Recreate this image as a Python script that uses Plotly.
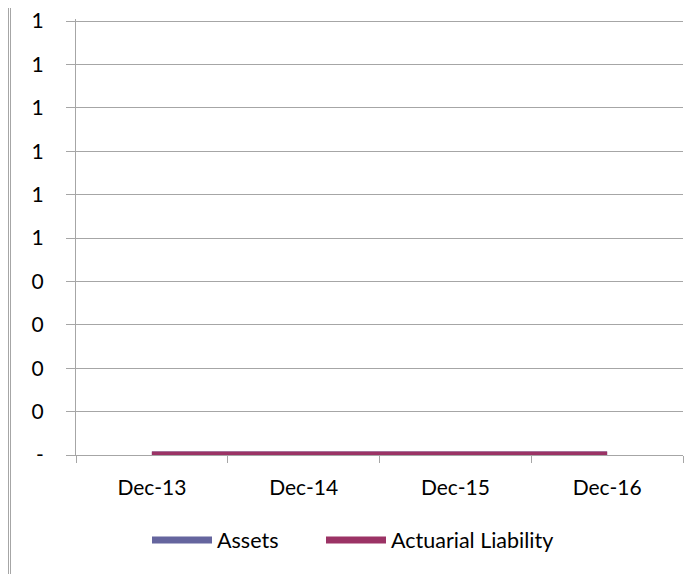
import plotly.graph_objects as go

categories = ["Dec-13", "Dec-14", "Dec-15", "Dec-16"]
assets = [0, 0, 0, 0]
actuarial_liability = [0, 0, 0, 0]
y_tickvals = [0, 0.12, 0.24, 0.36, 0.48, 0.6, 0.72, 0.84, 0.96, 1.08, 1.2]
y_ticktext = ["-", "0", "0", "0", "0", "1", "1", "1", "1", "1", "1"]

FONT = "Lato"
W, H = 692, 566
L, R, T, B = 68, 17, 11, 119
PW, PH = W - L - R, H - T - B
YMAX = 1.2 * PH / (PH - 2)  # 1.2 gridline 2px below top edge of plot area

fig = go.Figure()
fig.add_trace(go.Scatter(x=categories, y=assets, name="Assets", mode="lines",
                         line=dict(color="#65659E", width=7), cliponaxis=False, legend="legend"))
fig.add_trace(go.Scatter(x=categories, y=actuarial_liability, name="Actuarial Liability", mode="lines",
                         line=dict(color="#9B3365", width=7), cliponaxis=False, legend="legend2"))

leg_y = -(532 - (T + PH)) / PH
fig.update_layout(
    width=W, height=H,
    margin=dict(l=L, r=R, t=T, b=B, autoexpand=False),
    paper_bgcolor="white", plot_bgcolor="white",
    font=dict(family=FONT, size=21, color="black"),
    showlegend=True,
    legend=dict(orientation="h", x=(139 - L) / PW, xanchor="left", y=leg_y, yanchor="middle",
                font=dict(size=21.5), itemwidth=60),
    legend2=dict(orientation="h", x=(313 - L) / PW, xanchor="left", y=leg_y, yanchor="middle",
                 font=dict(size=21.5), itemwidth=60),
    xaxis=dict(type="category", range=[-0.5, 3.5], showgrid=False, tickson="boundaries",
               ticks="outside", ticklen=7, tickcolor="#A6A6A6", showline=True,
               linecolor="#A6A6A6", linewidth=1, zeroline=False, ticklabelstandoff=14,
               automargin=False),
    yaxis=dict(range=[0, YMAX], tickvals=y_tickvals, ticktext=y_ticktext, showgrid=True,
               gridcolor="#A6A6A6", gridwidth=1, ticks="outside", ticklen=9,
               tickcolor="#A6A6A6", showline=True, linecolor="#A6A6A6", zeroline=False,
               ticklabelstandoff=18, ticklabeloverflow="allow", automargin=False),
)

# left border lines
for px in [0.5, 2.5]:
    fig.add_shape(type="line", xref="paper", yref="paper", x0=(px - L) / PW, x1=(px - L) / PW,
                  y0=-B / PH, y1=(PH + T) / PH, line=dict(color="#A6A6A6", width=1))

fig.write_html("out.html")
